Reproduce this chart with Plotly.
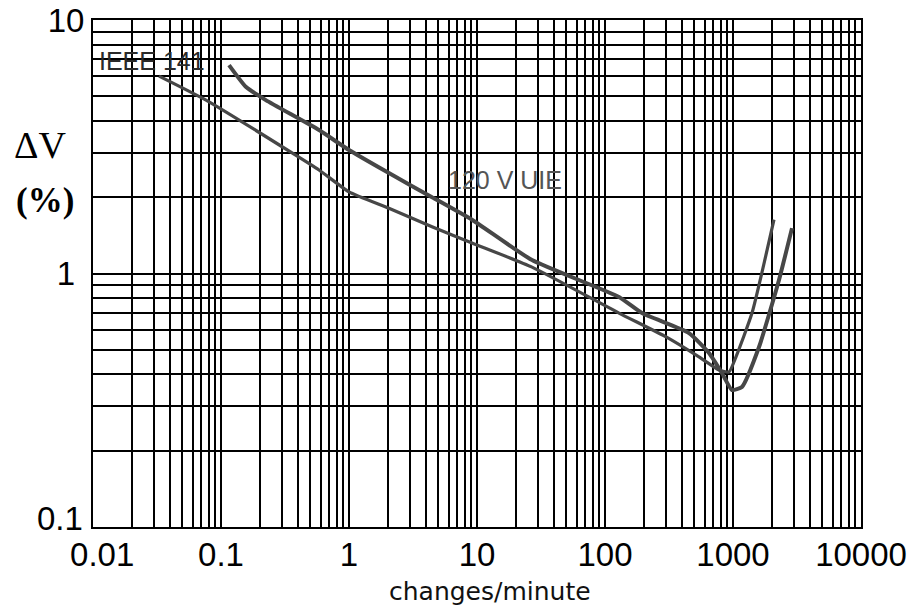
import math
import plotly.graph_objects as go

# IEEE 141 curve (changes/minute, delta V %)
ieee_x = [0.0328, 0.0764, 0.359, 0.583, 1.0, 2.05, 4.45, 9.14, 26.9, 128.6, 300, 542, 778, 931, 1055, 1407, 2090]
ieee_y = [6.01, 4.83, 2.99, 2.56, 2.10, 1.81, 1.53, 1.32, 1.06, 0.698, 0.562, 0.469, 0.416, 0.409, 0.469, 0.698, 1.63]

# 120 V UIE curve
uie_x = [0.1155, 0.157, 0.224, 0.583, 1.0, 2.05, 4.45, 9.14, 26.9, 128.6, 194.5, 453, 649, 820, 982, 1175, 1597, 2287, 2891]
uie_y = [6.64, 5.44, 4.83, 3.68, 3.07, 2.49, 2.00, 1.63, 1.13, 0.808, 0.698, 0.582, 0.486, 0.405, 0.347, 0.357, 0.513, 0.943, 1.51]

x_decades = [0.01, 0.1, 1, 10, 100, 1000, 10000]
x_labels = ["\u00a0\u00a00.01", "0.1", "1", "10", "100", "1000", "10000"]
y_decades = [0.1, 1, 10]
y_labels = ["", "1\u00a0", "10"]   # the bottom label (0.1) is drawn raised, as in the source
y_bottom_label = "0.1"

x_title = "changes/minute"
y_title_1 = "ΔV"
y_title_2 = "(%)"
label_ieee = "IEEE 141"
label_uie = "120 V UIE"
label_ieee_pos = (0.0107, 6.9)   # data coords (left edge of text)
label_uie_pos = (5.7, 2.34)


def log_ticks(decades, labels):
    vals, texts = [], []
    for i, d in enumerate(decades):
        vals.append(d)
        texts.append(labels[i])
        if i < len(decades) - 1:
            for m in range(2, 10):
                vals.append(d * m)
                texts.append("")
    return vals, texts


xv, xt = log_ticks(x_decades, x_labels)
yv, yt = log_ticks(y_decades, y_labels)

fig = go.Figure()
fig.add_trace(go.Scatter(x=ieee_x, y=ieee_y, mode="lines",
                         line=dict(color="#474747", width=3.2, shape="spline", smoothing=0.5),
                         hoverinfo="skip", showlegend=False))
fig.add_trace(go.Scatter(x=uie_x, y=uie_y, mode="lines",
                         line=dict(color="#474747", width=4, shape="spline", smoothing=0.5),
                         hoverinfo="skip", showlegend=False))

tickfont = dict(family="Liberation Sans, Arial", size=33, color="black")

fig.update_xaxes(type="log", range=[-2, 4], tickmode="array", tickvals=xv, ticktext=xt,
                 showgrid=True, gridcolor="black", gridwidth=2, showline=True, linecolor="black", linewidth=2,
                 mirror=True, ticks="", tickfont=tickfont, zeroline=False, automargin=False,
                 ticklabelstandoff=-3)
fig.update_yaxes(type="log", range=[-1, 1], tickmode="array", tickvals=yv, ticktext=yt,
                 showgrid=True, gridcolor="black", gridwidth=2, showline=True, linecolor="black", linewidth=2,
                 mirror=True, ticks="", tickfont=tickfont, zeroline=False, automargin=False)

# raised bottom y label
fig.add_annotation(x=0, xref="paper", y=math.log10(y_decades[0]), yref="y", text=y_bottom_label,
                   showarrow=False, xanchor="right", yanchor="middle", xshift=-8, yshift=9, font=tickfont)

# x axis title
fig.add_annotation(x=0.517, xref="paper", y=-0.128, yref="paper", text=x_title, showarrow=False,
                   xanchor="center", yanchor="middle",
                   font=dict(family="DejaVu Sans", size=25, color="#111111"))

fig.add_annotation(x=math.log10(label_ieee_pos[0]), y=math.log10(label_ieee_pos[1]), xref="x", yref="y",
                   text=label_ieee, showarrow=False, xanchor="left", yanchor="middle",
                   font=dict(family="Liberation Sans, Arial", size=25, color="#2a2a2a"))
fig.add_annotation(x=math.log10(label_uie_pos[0]), y=math.log10(label_uie_pos[1]), xref="x", yref="y",
                   text=label_uie, showarrow=False, xanchor="left", yanchor="middle",
                   font=dict(family="Liberation Sans, Arial", size=25, color="#555555"))

fig.add_annotation(text=y_title_1, xref="paper", yref="paper", x=-0.069, y=0.7535, showarrow=False,
                   xanchor="center", yanchor="middle",
                   font=dict(family="Liberation Serif, DejaVu Serif", size=38, color="black"))
fig.add_annotation(text="<b>" + y_title_2 + "</b>", xref="paper", yref="paper", x=-0.0625, y=0.643, showarrow=False,
                   xanchor="center", yanchor="middle",
                   font=dict(family="Liberation Serif, DejaVu Serif", size=35, color="black"))

fig.update_layout(width=913, height=611, margin=dict(l=93, r=52, t=20, b=84, autoexpand=False),
                  paper_bgcolor="white", plot_bgcolor="white")

fig.write_html("out.html", config={"displayModeBar": False},
               post_script="document.body.style.margin='0';")
